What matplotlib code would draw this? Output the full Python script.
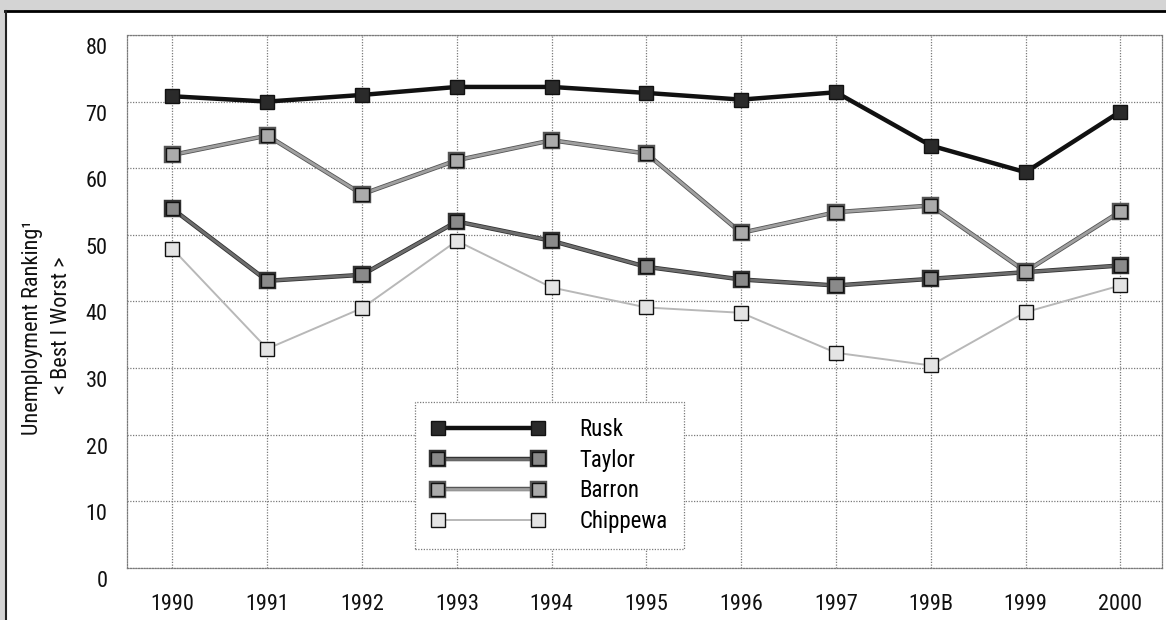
import os
import matplotlib
matplotlib.use("Agg")
import matplotlib.pyplot as plt
import matplotlib.patheffects as pe
import matplotlib.font_manager as fm
from matplotlib.transforms import ScaledTranslation
from matplotlib.patches import Rectangle

# pick a narrow sans close to the scanned Univers Condensed
wanted = ['LiberationSansNarrow-Regular.ttf', 'RobotoCondensed-Regular.ttf',
          'RobotoCondensed[wght].ttf', 'ArchivoNarrow-Regular.ttf',
          'ArchivoNarrow[wght].ttf', 'PTSansNarrow-Regular.ttf',
          'AsapCondensed-Regular.ttf', 'BarlowCondensed-Regular.ttf']
found = {os.path.basename(f): f for f in fm.findSystemFonts()}
family = ['DejaVu Sans']
for name in wanted:
    if name in found:
        fm.fontManager.addfont(found[name])
        family = [fm.FontProperties(fname=found[name]).get_name(), 'DejaVu Sans']
        break
plt.rcParams['font.family'] = family

# data
years = [1990, 1991, 1992, 1993, 1994, 1995, 1996, 1997, 1998, 1999, 2000]
year_labels = ['1990', '1991', '1992', '1993', '1994', '1995',
               '1996', '1997', '199B', '1999', '2000']
rusk = [70.8, 70.0, 71.0, 72.2, 72.2, 71.3, 70.3, 71.4, 63.4, 59.4, 68.5]
taylor = [53.9, 43.1, 44.0, 52.0, 49.1, 45.2, 43.3, 42.4, 43.4, 44.4, 45.4]
barron = [62.0, 64.9, 56.1, 61.2, 64.2, 62.2, 50.3, 53.4, 54.4, 44.5, 53.5]
chippewa = [47.9, 32.9, 39.0, 49.1, 42.1, 39.1, 38.3, 32.3, 30.4, 38.4, 42.4]

fig = plt.figure(figsize=(11.66, 6.2), dpi=100)

# scanned page frame
fig.patches.append(Rectangle((0, 0.984), 1, 0.016, transform=fig.transFigure,
                             color='#d4d4d4', zorder=0))
fig.patches.append(Rectangle((0, 0), 0.004, 1, transform=fig.transFigure,
                             color='#d4d4d4', zorder=0))
fig.lines.append(plt.Line2D([0.004, 1], [0.983, 0.983], transform=fig.transFigure,
                            color='black', lw=2))
fig.lines.append(plt.Line2D([0.005, 0.005], [0, 0.983], transform=fig.transFigure,
                            color='#222222', lw=1.5))

ax = fig.add_axes([0.1089, 0.0839, 0.8877, 0.8597])

# name, values, line colour, width, marker face, marker size, edge of line
series = [
    ('Rusk', rusk, '#111111', 3.2, '#2a2a2a', 10.5, None),
    ('Taylor', taylor, '#6e6e6e', 2.0, '#8a8a8a', 9.5, '#333333'),
    ('Barron', barron, '#a0a0a0', 2.0, '#ababab', 9.5, '#555555'),
    ('Chippewa', chippewa, '#b8b8b8', 1.4, '#e4e4e4', 9.5, None),
]

for name, vals, col, lw, face, ms, edge in series:
    line, = ax.plot(years, vals, color=col, lw=lw, marker='s', ms=ms,
                    mfc=face, mec='#111111', mew=1.0, label=name, zorder=3)
    if edge is not None:
        line.set_path_effects([pe.Stroke(linewidth=lw + 1.2, foreground=edge),
                               pe.Normal()])

ax.set_xlim(1989.52, 2000.44)
ax.set_ylim(0, 80)
ax.set_xticks(years)
ax.set_xticklabels(year_labels)
ax.set_yticks(range(0, 81, 10))
ax.tick_params(axis='both', length=0, labelsize=16, colors='#111111')
ax.tick_params(axis='x', pad=19)
ax.tick_params(axis='y', pad=14)

# tick labels in the scan sit a bit below their gridlines
shift = ScaledTranslation(0, -11 / 100, fig.dpi_scale_trans)
for lab in ax.get_yticklabels():
    lab.set_transform(lab.get_transform() + shift)

ax.grid(True, color='#7a7a7a', linestyle=(0, (1, 1.2)), lw=0.9)
ax.set_axisbelow(True)
for sp in ax.spines.values():
    sp.set_color('#7a7a7a')
    sp.set_linestyle((0, (1, 1.2)))
    sp.set_linewidth(0.9)

fig.text(0.028, 0.472, 'Unemployment Ranking\u00b9', rotation=90,
         ha='center', va='center', fontsize=16, color='#111111')
fig.text(0.053, 0.476, '< Best I Worst >', rotation=90,
         ha='center', va='center', fontsize=16, color='#111111')

leg = ax.legend(loc='upper left', bbox_to_anchor=(0.278, 0.311), numpoints=2,
                handlelength=5.0, handletextpad=1.5, fontsize=16.5,
                frameon=True, fancybox=False, borderpad=0.7, labelspacing=0.33,
                borderaxespad=0)
frame = leg.get_frame()
frame.set_edgecolor('#7a7a7a')
frame.set_linestyle((0, (1, 1.2)))
frame.set_linewidth(0.9)
frame.set_facecolor('white')
frame.set_alpha(1)

fig.savefig('out.png', dpi=100)
